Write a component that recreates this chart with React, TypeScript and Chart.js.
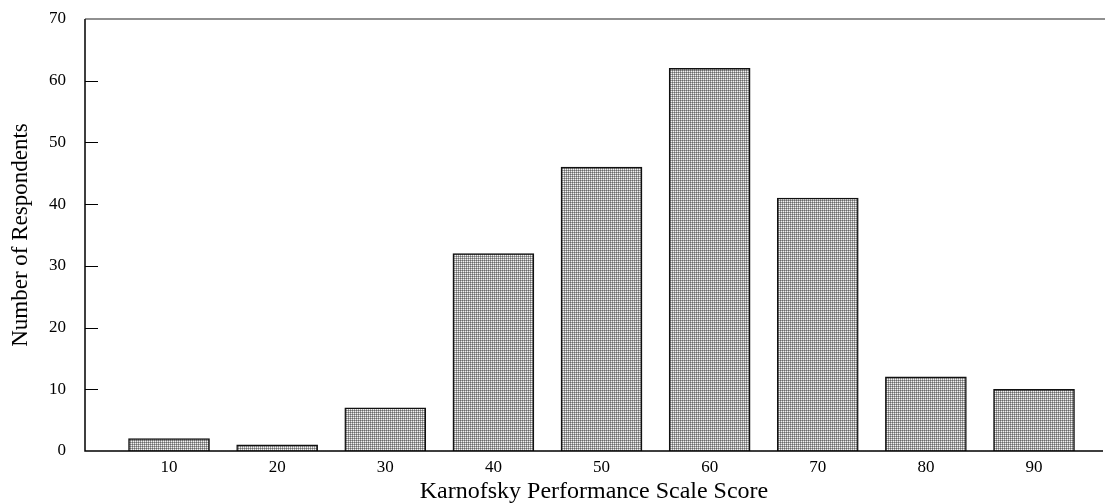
import React, { useEffect, useRef } from "react";
import { Chart, registerables } from "chart.js";
Chart.register(...registerables);

const scores = [10, 20, 30, 40, 50, 60, 70, 80, 90];
const respondents = [2, 1, 7, 32, 46, 62, 41, 12, 10];
const yTicks = [0, 10, 20, 30, 40, 50, 60, 70];

function makePattern(): CanvasPattern | string {
  const c = document.createElement("canvas");
  c.width = 2;
  c.height = 2;
  const g = c.getContext("2d");
  if (!g) return "#a8a8a8";
  g.fillStyle = "#6a6a6a";
  g.fillRect(0, 0, 1, 1);
  g.fillStyle = "#a2a2a2";
  g.fillRect(1, 0, 1, 1);
  g.fillRect(0, 1, 1, 1);
  g.fillStyle = "#f2f2f2";
  g.fillRect(1, 1, 1, 1);
  const p = g.createPattern(c, "repeat");
  return p || "#a8a8a8";
}

const framePlugin = {
  id: "frame",
  afterDraw(chart: any) {
    const { ctx, chartArea } = chart;
    const { left, right, top, bottom } = chartArea;
    const y = chart.scales.y;
    ctx.save();
    ctx.strokeStyle = "#000";
    ctx.lineWidth = 1.5;
    ctx.beginPath();
    ctx.moveTo(left, top);
    ctx.lineTo(left, bottom);
    ctx.lineTo(right, bottom);
    ctx.stroke();
    ctx.lineWidth = 1.2;
    ctx.strokeStyle = "#222";
    ctx.beginPath();
    ctx.moveTo(left, top);
    ctx.lineTo(right + 2, top);
    ctx.stroke();
    ctx.lineWidth = 1;
    ctx.strokeStyle = "#000";
    for (const v of yTicks) {
      if (v === 0 || v === 70) continue;
      const py = Math.round(y.getPixelForValue(v)) + 0.5;
      ctx.beginPath();
      ctx.moveTo(left, py);
      ctx.lineTo(left + 13, py);
      ctx.stroke();
    }
    ctx.restore();
  },
};

export default function App() {
  const ref = useRef<HTMLCanvasElement | null>(null);
  useEffect(() => {
    if (!ref.current) return;
    const font = "'Liberation Serif', 'Times New Roman', serif";
    const chart = new Chart(ref.current, {
      type: "bar",
      data: {
        datasets: [
          {
            data: scores.map((s, i) => ({ x: s, y: respondents[i] })),
            backgroundColor: makePattern() as any,
            borderColor: "#111",
            borderWidth: 1.5,
            barThickness: 81,
          },
        ],
      },
      plugins: [framePlugin],
      options: {
        animation: false,
        responsive: false,
        maintainAspectRatio: false,
        layout: { padding: { top: 19, right: 4, left: 0, bottom: 0 } },
        plugins: { legend: { display: false }, tooltip: { enabled: false } },
        scales: {
          x: {
            type: "linear",
            offset: false,
            min: 2.23,
            max: 96.38,
            afterBuildTicks: (scale: any) => {
              scale.ticks = scores.map((v) => ({ value: v }));
            },
            afterFit: (scale: any) => {
              scale.height = 53;
            },
            grid: { display: false, drawTicks: false },
            border: { display: false },
            ticks: {
              color: "#000",
              font: { family: font, size: 17 },
              padding: 6,
              maxRotation: 0,
              autoSkip: false,
            },
            title: {
              display: true,
              text: "Karnofsky Performance Scale Score",
              color: "#000",
              font: { family: font, size: 24 },
              padding: { top: 0, bottom: -2 },
            },
          },
          y: {
            min: 0,
            max: 70,
            afterBuildTicks: (scale: any) => {
              scale.ticks = yTicks.map((v) => ({ value: v }));
            },
            afterFit: (scale: any) => {
              scale.width = 85;
              scale.paddingTop = 0;
              scale.paddingBottom = 0;
            },
            grid: { display: false, drawTicks: false },
            border: { display: false },
            ticks: {
              color: "#000",
              font: { family: font, size: 17 },
              padding: 19,
            },
            title: {
              display: true,
              text: "Number of Respondents",
              color: "#000",
              font: { family: font, size: 23 },
              padding: { top: 7, bottom: 0 },
            },
          },
        },
      },
    } as any);
    return () => chart.destroy();
  }, []);
  return (
    <div style={{ position: "fixed", left: 0, top: 0, width: 1107, height: 504, background: "#fff" }}>
      <canvas ref={ref} width={1107} height={504} style={{ width: 1107, height: 504, display: "block" }} />
    </div>
  );
}
